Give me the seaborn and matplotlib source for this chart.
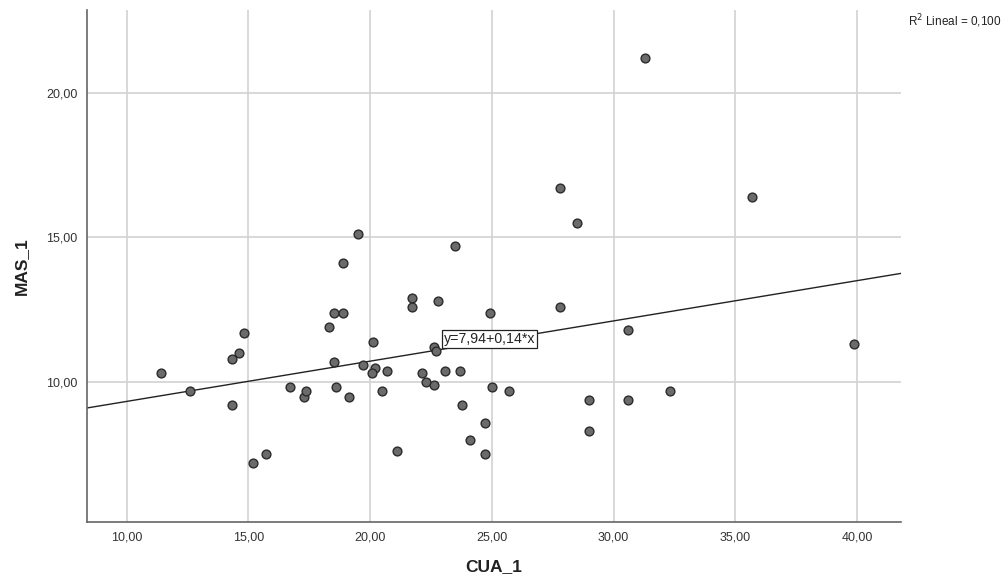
import matplotlib
matplotlib.use("Agg")
import matplotlib.pyplot as plt
import seaborn as sns
import pandas as pd

cua = [11.40, 12.61, 14.31, 14.61, 14.80, 14.31, 15.19, 15.71, 16.69, 17.29,
       17.38, 18.30, 18.50, 18.90, 18.50, 18.60, 19.11, 20.10, 19.69, 20.21,
       20.09, 20.70, 20.50, 19.50, 18.89, 21.71, 21.71, 22.80, 22.60, 22.71,
       22.11, 23.09, 23.69, 22.30, 22.60, 23.49, 23.78, 24.08, 24.70, 21.10,
       24.70, 24.90, 25.00, 25.70, 27.80, 28.49, 27.80, 28.99, 28.99, 30.60,
       30.60, 31.30, 32.30, 35.69, 39.89]
mas = [10.30, 9.68, 10.80, 11.01, 11.70, 9.20, 7.21, 7.52, 9.83, 9.50,
       9.68, 11.91, 12.40, 12.40, 10.70, 9.83, 9.50, 11.40, 10.60, 10.48,
       10.30, 10.39, 9.68, 15.11, 14.11, 12.91, 12.60, 12.81, 11.21, 11.08,
       10.30, 10.39, 10.39, 9.99, 9.91, 14.71, 9.20, 7.98, 7.52, 7.63,
       8.59, 12.40, 9.83, 9.68, 16.71, 15.50, 12.60, 9.37, 8.29, 11.80,
       9.38, 21.22, 9.68, 16.41, 11.31]

x_ticks = [10, 15, 20, 25, 30, 35, 40]
y_ticks = [10, 15, 20]
fit_label = "y=7,94+0,14*x"
r2_label = "R$^2$ Lineal = 0,100"

df = pd.DataFrame({"CUA_1": cua, "MAS_1": mas})

sns.set_theme(style="white")
plt.rcParams['font.family'] = ['Liberation Sans', 'DejaVu Sans']

fig = plt.figure(figsize=(10.04, 5.85), dpi=100)
ax = fig.add_axes([0.0867, 0.1077, 0.8107, 0.8753])

ax.set_xlim(8.37, 41.8)
ax.set_ylim(5.16, 22.87)
ax.set_xticks(x_ticks)
ax.set_yticks(y_ticks)
ax.set_xticklabels([f"{v:.2f}".replace(".", ",") for v in x_ticks])
ax.set_yticklabels([f"{v:.2f}".replace(".", ",") for v in y_ticks])
ax.grid(True, color="#d2d2d2", linewidth=1.2)
ax.set_axisbelow(True)

sns.regplot(data=df, x="CUA_1", y="MAS_1", ax=ax, ci=None, truncate=False,
            scatter_kws=dict(s=40, color="#6b6b6b", edgecolor="#2b2b2b",
                             linewidths=1.0, alpha=1, zorder=3),
            line_kws=dict(color="#222222", linewidth=1.0, zorder=2))

ax.set_xlim(8.37, 41.8)
ax.set_ylim(5.16, 22.87)

for s in ["top", "right"]:
    ax.spines[s].set_visible(False)
for s in ["left", "bottom"]:
    ax.spines[s].set_color("#666666")
    ax.spines[s].set_linewidth(1.2)

ax.tick_params(axis="both", length=0, labelsize=9, labelcolor="#333333", pad=7)
ax.set_xlabel("CUA_1", fontsize=12.5, fontweight="bold", color="#222222", labelpad=11)
ax.set_ylabel("MAS_1", fontsize=12.5, fontweight="bold", color="#222222", labelpad=12)

ax.text(23.02, 11.49, fit_label, fontsize=10.2, color="#222222", ha="left", va="center",
        bbox=dict(boxstyle="square,pad=0.15", facecolor="white", edgecolor="#222222",
                  linewidth=0.9), zorder=5)

fig.text(0.997, 0.963, r2_label, fontsize=8.5, color="#222222", ha="right", va="center")

fig.savefig("out.png", dpi=100, facecolor="white")
